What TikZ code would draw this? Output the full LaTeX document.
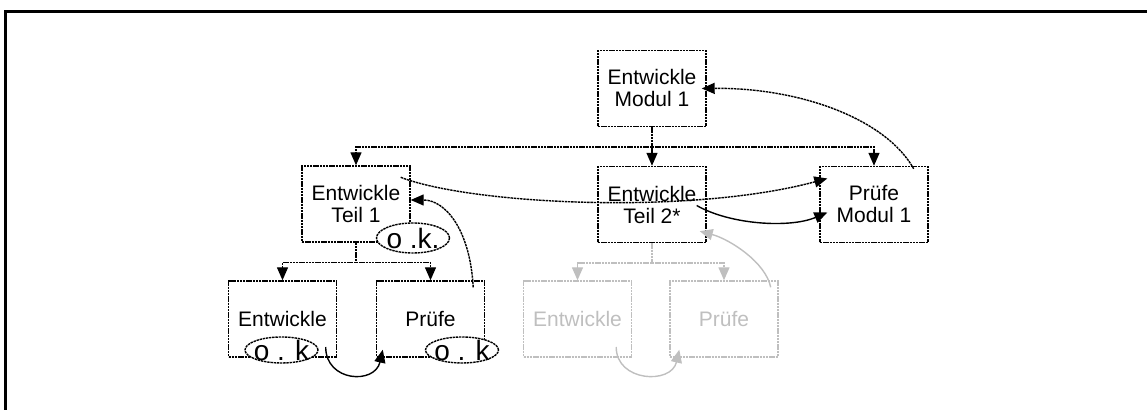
\documentclass[tikz,border=0pt]{standalone}
\usepackage{fontspec}
\setmainfont{Liberation Sans}
\newfontfamily\okfont{Liberation Sans}
\usetikzlibrary{arrows.meta,shapes.geometric}
\definecolor{hell}{gray}{0.75}
\tikzset{
  >={Triangle[length=6.5pt,width=5.5pt]},
  fein/.style={line width=0.7pt,dash pattern=on 1.2pt off 0.4pt},
  kasten/.style={fein,draw,inner sep=0pt,minimum width=54pt,minimum height=38pt,align=center,
    font=\fontsize{10.5}{11}\selectfont},
  grau/.style={draw=hell,text=hell},
  okay/.style={ellipse,fein,draw,fill=white,inner xsep=-1.8pt,inner ysep=-2pt,minimum width=36.5pt,
    font=\okfont\fontsize{14}{14}\selectfont},
  bogen/.style={line width=0.7pt}
}
\begin{document}
\begin{tikzpicture}[x=0.5pt,y=-0.5pt]
  \useasboundingbox (0,0) rectangle (1147,410);
  \draw[line width=1.5pt] (5.5,410) |- (1147,11.5);

  \node[kasten] (EM) at (652,88.5){Entwickle\\Modul 1};
  \node[kasten] (ET1) at (356,204){Entwickle\\Teil 1};
  \node[kasten] (ET2) at (652,204.5){Entwickle\\Teil 2*};
  \node[kasten] (PM) at (874,204.5){Prüfe\\Modul 1};
  \node[kasten] (E1) at (282.5,319){Entwickle};
  \node[kasten] (P1) at (430.5,319){Prüfe};
  \node[kasten,grau] (E2) at (577.5,319){Entwickle};
  \node[kasten,grau] (P2) at (724,319){Prüfe};

  \node[okay,minimum height=15pt] (OK0) at (413,238){o .k.};
  \node[okay,minimum height=13pt] (OK1) at (281.5,350){o . k};
  \node[okay,minimum height=13pt] (OK2) at (462,350){o . k};

  \draw[fein] (EM.south) -- ++(0,20) coordinate (BM);
  \draw[fein,->] (BM) -| (ET1.north);
  \draw[fein,->] (BM) -- (ET2.north);
  \draw[fein,->] (BM) -| (PM.north);
  \draw[fein] (ET1.south) -- ++(0,20) coordinate (B1);
  \draw[fein,->] (B1) -| (E1.north);
  \draw[fein,->] (B1) -| (P1.north);
  \draw[fein,hell] (ET2.south) -- ++(0,20) coordinate (B2);
  \draw[fein,hell,->] (B2) -| (E2.north);
  \draw[fein,hell,->] (B2) -| (P2.north);

  \draw[bogen,->] ([xshift=3.5pt,yshift=1.5pt]OK1.east) .. controls +(0,35) and +(-8,35) .. ([xshift=3.5pt,yshift=4pt]P1.south west);
  \draw[fein,->] ([xshift=-6pt,yshift=-3.5pt]P1.north east) .. controls +(-3,-57) and +(35,0) .. ([yshift=2pt]ET1.east);
  \draw[fein,->] ([xshift=-5pt,yshift=-6pt]ET1.north east) .. controls +(70,27) and +(-138,37) .. ([xshift=4pt,yshift=13pt]PM.west);
  \draw[bogen,->] ([xshift=-5pt,yshift=-0.5pt]ET2.east) .. controls +(33,19) and +(-38,16) .. ([xshift=4pt,yshift=-4pt]PM.west);
  \draw[fein,->] ([xshift=-7.5pt,yshift=-1.5pt]PM.north east) .. controls +(-28,-50) and +(98,-1) .. ([xshift=-2.5pt]EM.east);
  \draw[bogen,hell,->] ([xshift=-8pt,yshift=-14pt]E2.east) .. controls +(0,35) and +(-8,35) .. ([xshift=5pt,yshift=4pt]P2.south west);
  \draw[bogen,hell,->] ([xshift=-4pt,yshift=-3.5pt]P2.north east) .. controls +(-5,-25) and +(30,8) .. ([xshift=-3.5pt,yshift=6pt]ET2.south east);
\end{tikzpicture}
\end{document}
